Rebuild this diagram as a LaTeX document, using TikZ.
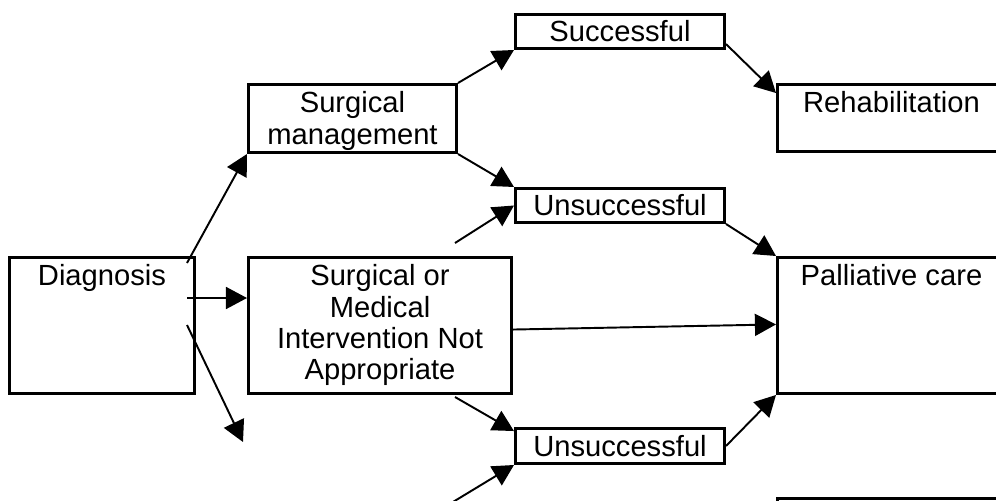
\documentclass[tikz,border=0pt]{standalone}
\usepackage{fontspec}
\setmainfont{Liberation Sans}
\usetikzlibrary{arrows.meta}

\def\pxu{0.02cm}

\tikzset{
  tbox/.style={draw, line width=1.7pt, anchor=north west, inner sep=0pt},
  toptext/.style={anchor=north, yshift=-4.6pt, align=center, inner sep=0pt},
  sbox/.style={draw, line width=1.7pt, anchor=north west, inner sep=0pt,
    minimum width=209*\pxu, minimum height=34*\pxu},
  arr/.style={line width=1.1pt, -{Triangle[length=12pt, width=12.5pt]}}
}

\begin{document}
\begin{tikzpicture}[x=\pxu, y=-\pxu, font=\fontsize{16.6}{17.9}\selectfont]

  \useasboundingbox (0,0) rectangle (996,500);
  \clip (0,0) rectangle (996,500);

  % Large boxes, text at the top
  \node[tbox, minimum width=185*\pxu, minimum height=136*\pxu,
    label={[toptext]north:Diagnosis}] (diag) at (8,256) {};
  \node[tbox, minimum width=208*\pxu, minimum height=68*\pxu,
    label={[toptext]north:{Surgical\\management}}] (surg) at (247,83) {};
  \node[tbox, minimum width=263*\pxu, minimum height=136*\pxu,
    label={[toptext]north:{Surgical or\\Medical\\Intervention Not\\Appropriate}}] (nointerv) at (247,256) {};

  % Outcome boxes (run off the right edge)
  \node[tbox, minimum width=228*\pxu, minimum height=67*\pxu,
    label={[toptext]north:Rehabilitation}] (rehab) at (776,83) {};
  \node[tbox, minimum width=228*\pxu, minimum height=136*\pxu,
    label={[toptext]north:Palliative care}] (pall) at (776,256) {};
  \node[tbox, minimum width=228*\pxu, minimum height=100*\pxu] (lowbox) at (776,497) {};

  % Small result boxes
  \node[sbox] (succ) at (514,13) {Successful};
  \node[sbox] (unsucA) at (514,187) {Unsuccessful};
  \node[sbox, minimum height=35*\pxu] (unsucB) at (514,427) {Unsuccessful};

  % Free ends of connectors
  \coordinate (d1) at (187,263);
  \coordinate (d2) at (187,298);
  \coordinate (d3) at (187,325);
  \coordinate (lowleft) at (243,442);
  \coordinate (m1) at (455,243);
  \coordinate (m2) at (455,397);
  \coordinate (m3) at (448,505);

  % Connectors
  \draw[arr] (d1) -- (surg.south west);
  \draw[arr] (d2) -- (d2 -| nointerv.west);
  \draw[arr] (d3) -- (lowleft);
  \draw[arr] (surg.north east) -- (succ.south west);
  \draw[arr] (surg.south east) -- (unsucA.north west);
  \draw[arr] (m1) -- (unsucA.west);
  \draw[arr] ([yshift=3.4pt]succ.south east) -- ([yshift=-5.7pt]rehab.north west);
  \draw[arr] (unsucA.south east) -- (pall.north west);
  \draw[arr] ([yshift=-2.3pt]nointerv.east) -- ([yshift=0.6pt]pall.west);
  \draw[arr] (m2) -- ([yshift=-2.3pt]unsucB.north west);
  \draw[arr] (m3) -- (unsucB.south west);
  \draw[arr] (unsucB.east) -- (pall.south west);

\end{tikzpicture}
\end{document}
